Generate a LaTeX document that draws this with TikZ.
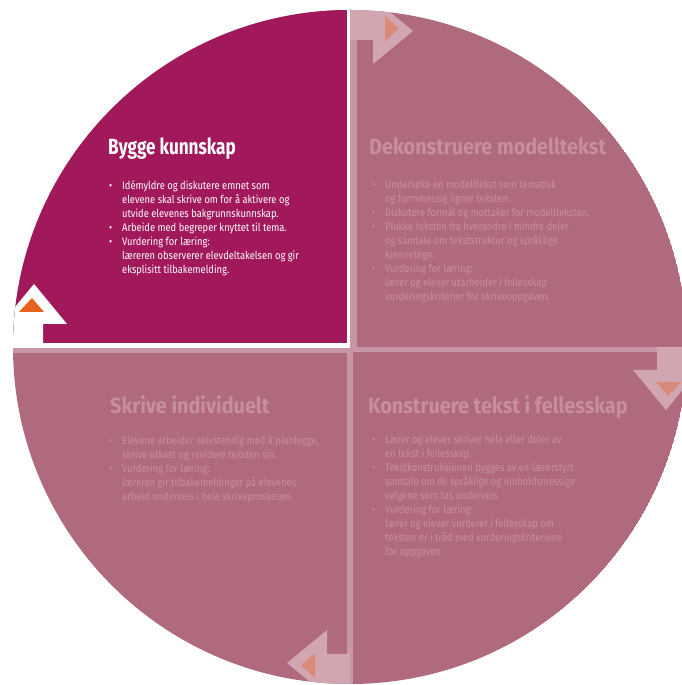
\documentclass[tikz,border=0pt]{standalone}
\usepackage{fontspec}
\setmainfont{Fira Sans}[FakeStretch=0.85]
\newfontfamily\ttlfont{Fira Sans}[FakeStretch=0.78]
\newfontfamily\ttlwide{Fira Sans}[FakeStretch=0.9]
\definecolor{darkq}{HTML}{A2195B}
\definecolor{fadeq}{HTML}{B06A7E}
\definecolor{fadetxt}{HTML}{C78E9E}
\definecolor{fadearrow}{HTML}{D2A6B1}
\definecolor{fadeline}{HTML}{C896A4}
\definecolor{orangeA}{HTML}{E8621C}
\definecolor{orangeF}{HTML}{D98A78}
\newcommand\bitem{\makebox[13pt][l]{\textbullet}}
\newcommand\ind{\hspace*{13pt}}
\tikzset{
  ttl/.style={anchor=base west, font=\fontsize{22}{26}\selectfont\ttlfont\bfseries, inner sep=0},
  ttlfade/.style={anchor=base west, font=\fontsize{22}{26}\selectfont\ttlwide\bfseries, inner sep=0, text=fadetxt},
  body/.style={anchor=north west, font=\fontsize{11}{14}\selectfont, inner sep=0, align=left},
}
\newcommand\arrowmark[3]{%
  \begin{scope}[shift={(C)}, rotate=#1]
    \fill[#2] (-307,0) -- (-307,23) -- (-283,23) -- (-316,63) -- (-349,23) -- (-360,23) -- (-360,0) -- cycle;
    \fill[#3] (-306,35) -- (-331,35) -- (-318,49) -- cycle;
  \end{scope}}
\begin{document}
\begin{tikzpicture}[x=1pt,y=1pt]
\useasboundingbox (0,0) rectangle (682,685);
\coordinate (C) at (350,338);
\begin{scope}
  \clip (0,0) rectangle (682,685);
  \clip (C) circle (337);
  \fill[fadeq] (C) circle (337);
  \fill[darkq] (C) -- ++(-337,0) arc (180:90:337) -- cycle;
  % light strips along inactive edges
  \fill[fadeline] (350,338) rectangle (357,685);
  \fill[fadeline] (350,333) rectangle (690,338);
  \fill[fadeline] (347,0) rectangle (353,338);
  \fill[fadeline] (0,332) rectangle (347,337);
  % white gaps of the active quadrant
  \fill[white] (347,338) rectangle (350,685);
  \fill[white] (0,337) rectangle (350,342);
  % arrows
  \arrowmark{0}{white}{orangeA}
  \arrowmark{-90}{fadearrow}{orangeF}
  \arrowmark{-180}{fadearrow}{orangeF}
  \arrowmark{-270}{fadearrow}{orangeF}
\end{scope}
% texts
\node[ttl, text=white] (t1) at (108,530) {Bygge kunnskap};
\node[body, text=white] (b1) at (109,505) {%
\bitem Idémyldre og diskutere emnet som\\
\ind elevene skal skrive om for å aktivere og\\
\ind utvide elevenes bakgrunnskunnskap.\\
\bitem Arbeide med begreper knyttet til tema.\\
\bitem Vurdering for læring:\\
\ind læreren observerer elevdeltakelsen og gir\\
\ind eksplisitt tilbakemelding.};
\node[ttlfade] (t2) at (369,530) {Dekonstruere modelltekst};
\node[body, text=fadetxt] (b2) at (372,505) {%
\bitem Undersøke en modelltekst som tematisk\\
\ind og formmessig ligner teksten.\\
\bitem Diskutere formål og mottaker for modellteksten.\\
\bitem Plukke teksten fra hverandre i mindre deler\\
\ind og samtale om tekststruktur og språklige\\
\ind kjennetegn.\\
\bitem Vurdering for læring:\\
\ind lærer og elever utarbeider i fellesskap\\
\ind vurderingskriterier for skriveoppgaven.};
\node[ttlfade] (t3) at (110,271) {Skrive individuelt};
\node[body, text=fadetxt] (b3) at (109,250) {%
\bitem Elevene arbeider selvstendig med å planlegge,\\
\ind skrive utkast og revidere teksten sin.\\
\bitem Vurdering for læring:\\
\ind læreren gir tilbakemeldinger på elevenes\\
\ind arbeid underveis i hele skriveprosessen.};
\node[ttlfade] (t4) at (368,271) {Konstruere tekst i fellesskap};
\node[body, text=fadetxt] (b4) at (372,250) {%
\bitem Lærer og elever skriver hele eller deler av\\
\ind en tekst i fellesskap.\\
\bitem Tekstkonstruksjonen bygges av en lærerstyrt\\
\ind samtale om de språklige og innholdsmessige\\
\ind valgene som tas underveis.\\
\bitem Vurdering for læring:\\
\ind lærer og elever vurderer i fellesskap om\\
\ind teksten er i tråd med vurderingskriteriene\\
\ind for oppgaven.};
\end{tikzpicture}
\end{document}
